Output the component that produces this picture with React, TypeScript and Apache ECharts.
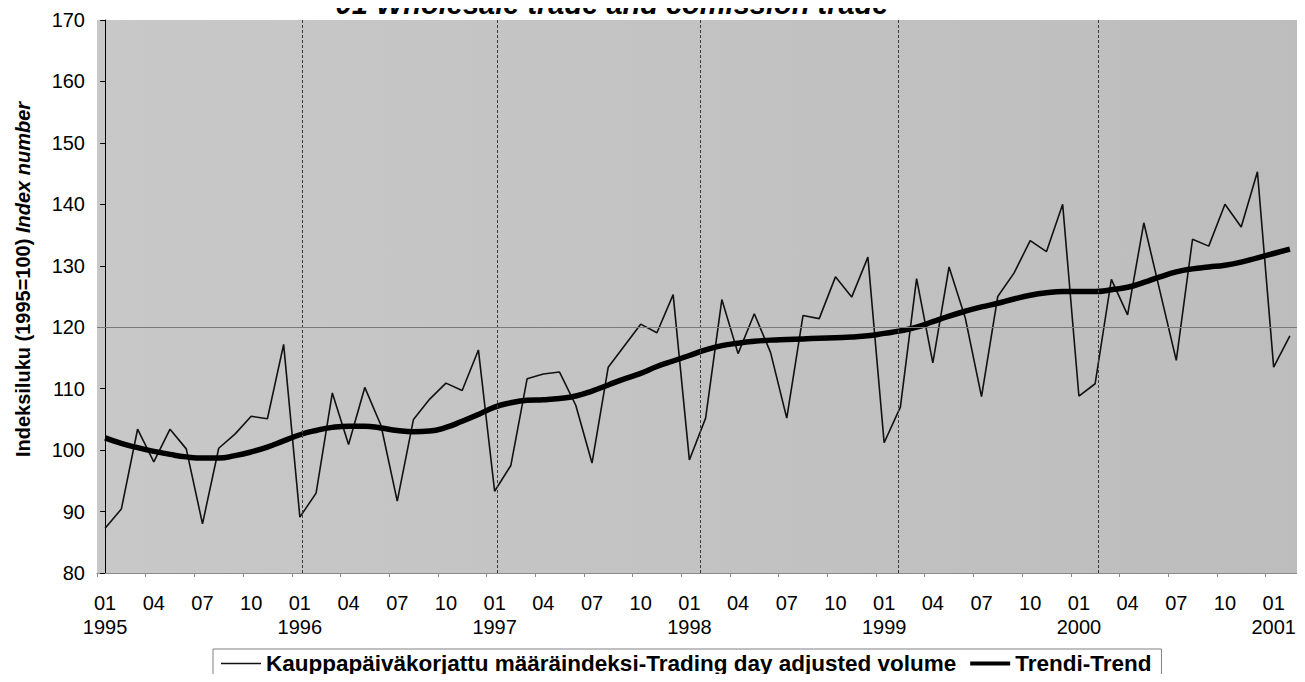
import React, { useEffect, useRef } from "react";
import * as echarts from "echarts";

const years = [1995, 1996, 1997, 1998, 1999, 2000, 2001];

const volume = [
  87.3, 90.4, 103.4, 98.1, 103.4, 100.2, 88.0, 100.3, 102.6, 105.5, 105.1, 117.2,
  89.1, 93.0, 109.3, 100.9, 110.2, 104.0, 91.7, 105.0, 108.3, 110.9, 109.7, 116.3,
  93.3, 97.5, 111.6, 112.4, 112.7, 107.3, 97.9, 113.5, 117.0, 120.5, 119.1, 125.3,
  98.4, 105.2, 124.5, 115.7, 122.2, 115.9, 105.2, 121.9, 121.4, 128.2, 124.9, 131.4,
  101.2, 107.0, 127.9, 114.2, 129.8, 121.5, 108.7, 125.0, 128.8, 134.1, 132.3, 140.0,
  108.8, 110.8, 127.8, 122.0, 137.0, 125.8, 114.6, 134.3, 133.2, 140.0, 136.3, 145.3,
  113.5, 118.6,
];

const trend = [
  102.0, 101.1, 100.4, 99.8, 99.3, 98.9, 98.7, 98.7, 99.1, 99.7, 100.5, 101.5,
  102.5, 103.2, 103.7, 103.9, 103.9, 103.6, 103.2, 103.0, 103.1, 103.7, 104.7, 105.8,
  107.0, 107.7, 108.1, 108.2, 108.4, 108.8, 109.6, 110.6, 111.6, 112.5, 113.6, 114.5,
  115.4, 116.3, 117.0, 117.4, 117.7, 117.9, 118.0, 118.1, 118.2, 118.3, 118.4, 118.6,
  119.0, 119.4, 120.0, 120.9, 121.8, 122.6, 123.3, 123.9, 124.6, 125.2, 125.6, 125.8,
  125.8, 125.8, 126.1, 126.5, 127.3, 128.2, 129.0, 129.5, 129.8, 130.1, 130.6, 131.3,
  132.0, 132.7,
];

// categories: YYYY-MM
const categories = volume.map((_, i) => {
  const y = years[0] + Math.floor(i / 12);
  const m = (i % 12) + 1;
  return `${y}-${m < 10 ? "0" + m : m}`;
});

// vertical year gridlines (in category-index units, as drawn in the original)
const yearGridPositions = [12.13, 24.15, 36.65, 48.85, 61.18];
const horizontalGridValues = [120];

const seriesNames = [
  "Kauppapäiväkorjattu määräindeksi-Trading day adjusted volume",
  "Trendi-Trend",
];

const titleText = "01 Wholesale trade and comission trade";

const FONT = '"Liberation Sans", Arial, Helvetica, sans-serif';

export default function App() {
  const ref = useRef<HTMLDivElement>(null);

  useEffect(() => {
    if (!ref.current) return;
    const chart = echarts.init(ref.current, undefined, { renderer: "svg" });
    const option: any = {
      animation: false,
      backgroundColor: "#ffffff",
      textStyle: { fontFamily: FONT },
      graphic: [
        {
          type: "text",
          x: 612,
          y: 4,
          style: {
            text: titleText,
            font: `italic bold 29px ${FONT}`,
            fill: "#000",
            textAlign: "center",
            textVerticalAlign: "middle",
            align: "center",
            verticalAlign: "middle",
          },
        },
      ],
      grid: {
        left: 97,
        right: 7,
        top: 20,
        bottom: 109,
        show: true,
        borderWidth: 0,
        backgroundColor: new echarts.graphic.LinearGradient(0, 0, 1, 0, [
          { offset: 0, color: "#c8c8c8" },
          { offset: 1, color: "#bdbdbd" },
        ]),
      },
      legend: {
        left: 213,
        top: 649,
        orient: "horizontal",
        data: [
          { name: seriesNames[0], icon: "path://M0,0H48V1.6H0Z" },
          { name: seriesNames[1], icon: "path://M0,0H48V5H0Z" },
        ],
        itemWidth: 40,
        itemHeight: 14,
        itemGap: 14,
        padding: [3, 10, 3, 8],
        borderColor: "#808080",
        borderWidth: 1,
        backgroundColor: "#ffffff",
        textStyle: {
          fontFamily: FONT,
          fontSize: 22.5,
          fontWeight: "bold",
          color: "#000",
        },
      },
      xAxis: [
        {
          type: "category",
          data: categories,
          boundaryGap: true,
          axisLine: { show: true, lineStyle: { color: "#8a8a8a", width: 1 } },
          axisTick: {
            show: true,
            interval: (index: number) => index % 3 === 0,
            length: 4,
            lineStyle: { color: "#8a8a8a" },
          },
          axisLabel: {
            interval: (index: number) => index % 3 === 0,
            margin: 18,
            fontFamily: FONT,
            fontSize: 20,
            color: "#000",
            lineHeight: 24,
            formatter: (value: string) => {
              const [y, m] = value.split("-");
              return m === "01" ? `${m}\n${y}` : m;
            },
          },
          splitLine: { show: false },
        },
        {
          type: "value",
          min: -0.5,
          max: categories.length - 0.5,
          show: false,
          splitLine: { show: false },
        },
      ],
      yAxis: {
        type: "value",
        min: 80,
        max: 170,
        interval: 10,
        name: "{a|Indeksiluku (1995=100) }{b|Index number}",
        nameLocation: "middle",
        nameGap: 64,
        nameTextStyle: {
          padding: [0, 0, 0, 34],
          rich: {
            a: { fontFamily: FONT, fontSize: 20, fontWeight: "bold", color: "#000" },
            b: {
              fontFamily: FONT,
              fontSize: 20,
              fontWeight: "bold",
              fontStyle: "italic",
              color: "#000",
            },
          },
        },
        axisLine: { show: true, lineStyle: { color: "#000", width: 1 } },
        axisTick: { show: true, length: 5, lineStyle: { color: "#000" } },
        axisLabel: {
          margin: 12,
          fontFamily: FONT,
          fontSize: 20,
          color: "#000",
        },
        splitLine: { show: false },
      },
      series: [
        {
          name: "grid-lines",
          type: "line",
          xAxisIndex: 1,
          yAxisIndex: 0,
          data: [],
          silent: true,
          markLine: {
            silent: true,
            symbol: "none",
            label: { show: false },
            data: [
              ...yearGridPositions.map((p) => ({
                xAxis: p,
                lineStyle: { color: "#3a3a3a", width: 1, type: [3, 2] },
              })),
              ...horizontalGridValues.map((v) => ({
                yAxis: v,
                lineStyle: { color: "#7a7a7a", width: 1, type: "solid" },
              })),
            ],
          },
        },
        {
          name: seriesNames[0],
          type: "line",
          data: volume,
          symbol: "none",
          lineStyle: { color: "#111", width: 1.6 },
          itemStyle: { color: "#111" },
          z: 3,
        },
        {
          name: seriesNames[1],
          type: "line",
          data: trend,
          symbol: "none",
          smooth: true,
          lineStyle: { color: "#000", width: 5.5 },
          itemStyle: { color: "#000" },
          z: 4,
        },
      ],
    };
    chart.setOption(option);
    return () => chart.dispose();
  }, []);

  return <div ref={ref} style={{ width: 1305, height: 682, margin: -8 }} />;
}
